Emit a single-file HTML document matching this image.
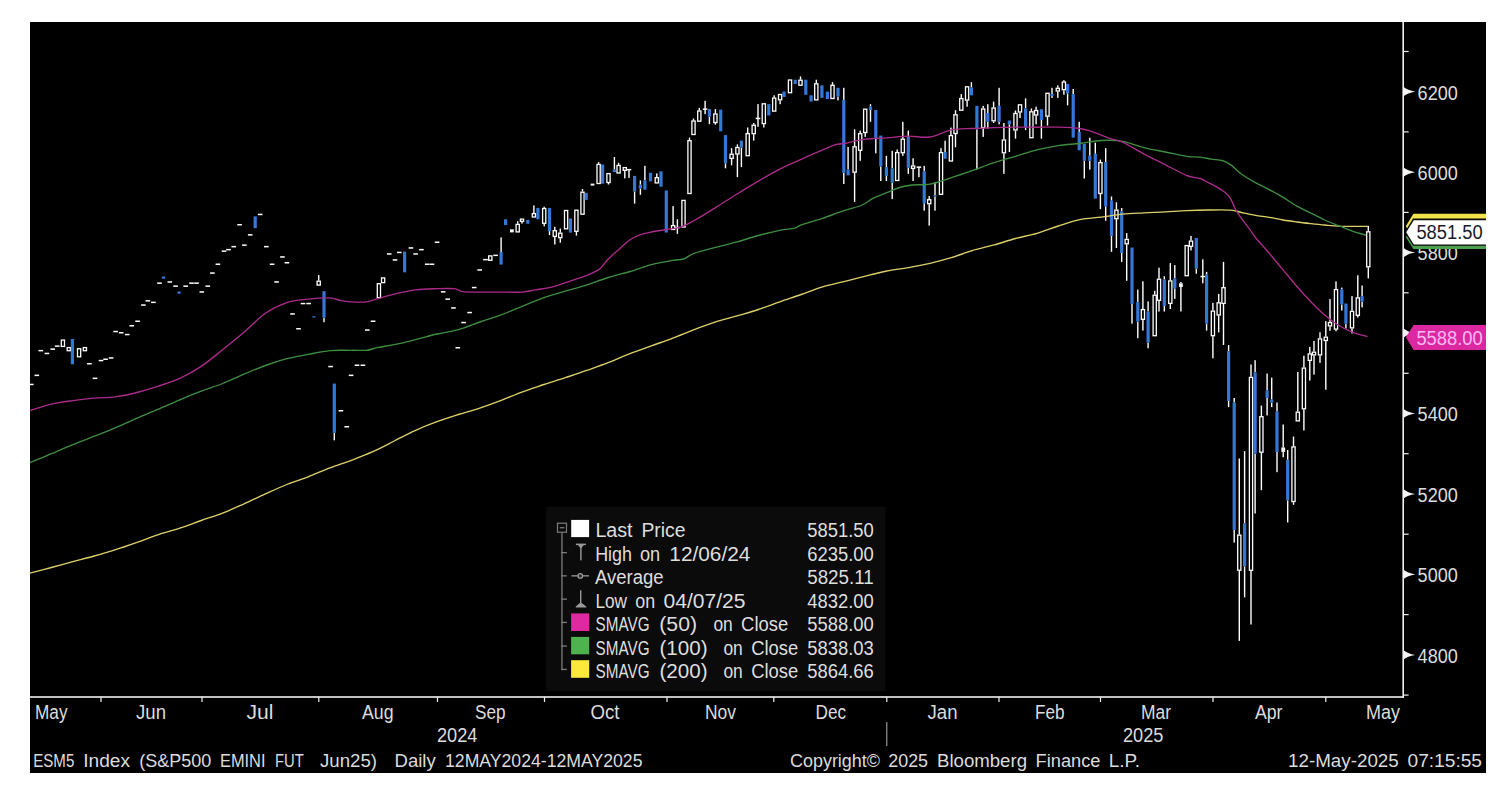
<!DOCTYPE html>
<html><head><meta charset="utf-8"><title>ESM5 Index</title>
<style>html,body{margin:0;padding:0;background:#fff;}body{width:1500px;height:794px;overflow:hidden;font-family:"Liberation Sans",sans-serif;}svg{display:block;position:absolute;left:0;top:0;}text{font-family:"Liberation Sans",sans-serif;}</style></head><body>
<svg width="1500" height="794" viewBox="0 0 1500 794">
<rect x="0" y="0" width="1500" height="794" fill="#ffffff"/>
<rect x="30" y="22" width="1456" height="751" fill="#000000"/>
<g>
<rect x="29.0" y="383.7" width="4.6" height="1.5" fill="#ffffff"/>
<rect x="34.5" y="374.6" width="4.6" height="1.5" fill="#ffffff"/>
<rect x="38.5" y="349.9" width="4.6" height="1.5" fill="#ffffff"/>
<rect x="44.6" y="352.7" width="4.6" height="1.5" fill="#ffffff"/>
<rect x="50.4" y="348.4" width="4.6" height="1.5" fill="#ffffff"/>
<rect x="54.9" y="345.4" width="4.6" height="1.5" fill="#ffffff"/>
<rect x="61.3" y="340.1" width="3.2" height="6.3" fill="#000" stroke="#ffffff" stroke-width="1.3"/>
<rect x="67.2" y="347.6" width="3.2" height="3.1" fill="#000" stroke="#ffffff" stroke-width="1.3"/>
<rect x="70.8" y="339.0" width="3.2" height="25.3" fill="#3478d7"/>
<rect x="77.5" y="348.7" width="3.2" height="8.1" fill="#000" stroke="#ffffff" stroke-width="1.3"/>
<rect x="83.3" y="347.6" width="3.2" height="3.1" fill="#000" stroke="#ffffff" stroke-width="1.3"/>
<rect x="87.1" y="363.0" width="4.6" height="1.5" fill="#ffffff"/>
<rect x="92.7" y="377.6" width="4.6" height="1.5" fill="#ffffff"/>
<rect x="98.7" y="359.8" width="4.6" height="1.5" fill="#ffffff"/>
<rect x="103.3" y="358.5" width="4.6" height="1.5" fill="#ffffff"/>
<rect x="108.8" y="357.2" width="4.6" height="1.5" fill="#ffffff"/>
<rect x="113.3" y="330.8" width="4.6" height="1.5" fill="#ffffff"/>
<rect x="118.9" y="332.0" width="4.6" height="1.5" fill="#ffffff"/>
<rect x="124.9" y="333.8" width="4.6" height="1.5" fill="#ffffff"/>
<rect x="129.5" y="325.0" width="4.6" height="1.5" fill="#ffffff"/>
<rect x="135.3" y="320.5" width="4.6" height="1.5" fill="#ffffff"/>
<rect x="141.1" y="304.3" width="4.6" height="1.5" fill="#ffffff"/>
<rect x="145.6" y="300.1" width="4.6" height="1.5" fill="#ffffff"/>
<rect x="151.1" y="301.6" width="4.6" height="1.5" fill="#ffffff"/>
<rect x="157.2" y="282.4" width="4.6" height="1.5" fill="#ffffff"/>
<rect x="161.9" y="276.5" width="3.2" height="2.2" fill="#3478d7"/>
<rect x="167.5" y="281.2" width="4.6" height="1.5" fill="#ffffff"/>
<rect x="173.3" y="285.4" width="4.6" height="1.5" fill="#ffffff"/>
<rect x="177.5" y="291.5" width="3.2" height="2.2" fill="#3478d7"/>
<rect x="183.4" y="285.4" width="4.6" height="1.5" fill="#ffffff"/>
<rect x="189.2" y="282.4" width="4.6" height="1.5" fill="#ffffff"/>
<rect x="194.2" y="282.4" width="4.6" height="1.5" fill="#ffffff"/>
<rect x="199.5" y="291.2" width="4.6" height="1.5" fill="#ffffff"/>
<rect x="205.5" y="285.4" width="4.6" height="1.5" fill="#ffffff"/>
<rect x="210.1" y="272.3" width="4.6" height="1.5" fill="#ffffff"/>
<rect x="215.6" y="263.5" width="4.6" height="1.5" fill="#ffffff"/>
<rect x="221.7" y="250.4" width="4.6" height="1.5" fill="#ffffff"/>
<rect x="226.2" y="248.9" width="4.6" height="1.5" fill="#ffffff"/>
<rect x="231.5" y="245.9" width="4.6" height="1.5" fill="#ffffff"/>
<rect x="237.3" y="224.0" width="4.6" height="1.5" fill="#ffffff"/>
<rect x="242.1" y="244.4" width="4.6" height="1.5" fill="#ffffff"/>
<rect x="247.9" y="234.1" width="4.6" height="1.5" fill="#ffffff"/>
<rect x="253.6" y="216.4" width="3.2" height="11.8" fill="#3478d7"/>
<rect x="257.9" y="213.7" width="4.6" height="1.5" fill="#ffffff"/>
<rect x="264.0" y="245.9" width="4.6" height="1.5" fill="#ffffff"/>
<rect x="269.8" y="263.5" width="4.6" height="1.5" fill="#ffffff"/>
<rect x="274.3" y="281.2" width="4.6" height="1.5" fill="#ffffff"/>
<rect x="280.1" y="256.2" width="4.6" height="1.5" fill="#ffffff"/>
<rect x="284.6" y="262.0" width="4.6" height="1.5" fill="#ffffff"/>
<rect x="290.2" y="313.2" width="4.6" height="1.5" fill="#ffffff"/>
<rect x="296.2" y="328.0" width="4.6" height="1.5" fill="#ffffff"/>
<rect x="300.7" y="302.8" width="4.6" height="1.5" fill="#ffffff"/>
<rect x="306.3" y="302.8" width="4.6" height="1.5" fill="#ffffff"/>
<rect x="312.3" y="316.3" width="3.2" height="1.2" fill="#3478d7"/>
<rect x="318.0" y="275.1" width="1.4" height="5.5" fill="#ffffff"/>
<rect x="317.1" y="281.2" width="3.2" height="3.9" fill="#000" stroke="#ffffff" stroke-width="1.3"/>
<rect x="323.3" y="317.6" width="1.4" height="4.6" fill="#ffffff"/>
<rect x="322.4" y="291.2" width="3.2" height="26.4" fill="#3478d7"/>
<rect x="328.3" y="365.8" width="4.6" height="1.5" fill="#ffffff"/>
<rect x="333.6" y="432.8" width="1.4" height="7.5" fill="#ffffff"/>
<rect x="332.7" y="383.6" width="3.2" height="49.2" fill="#3478d7"/>
<rect x="338.6" y="410.0" width="4.6" height="1.5" fill="#ffffff"/>
<rect x="344.4" y="426.0" width="4.6" height="1.5" fill="#ffffff"/>
<rect x="348.8" y="374.6" width="4.6" height="1.5" fill="#ffffff"/>
<rect x="354.7" y="364.5" width="4.6" height="1.5" fill="#ffffff"/>
<rect x="360.6" y="364.5" width="4.6" height="1.5" fill="#ffffff"/>
<rect x="365.0" y="329.3" width="4.6" height="1.5" fill="#ffffff"/>
<rect x="370.8" y="320.5" width="4.6" height="1.5" fill="#ffffff"/>
<rect x="377.3" y="283.7" width="3.2" height="14.0" fill="#000" stroke="#ffffff" stroke-width="1.3"/>
<rect x="381.5" y="277.9" width="3.2" height="4.7" fill="#000" stroke="#ffffff" stroke-width="1.3"/>
<rect x="386.9" y="253.2" width="4.6" height="1.5" fill="#ffffff"/>
<rect x="392.7" y="259.2" width="4.6" height="1.5" fill="#ffffff"/>
<rect x="397.0" y="251.7" width="4.6" height="1.5" fill="#ffffff"/>
<rect x="403.0" y="251.6" width="3.2" height="20.7" fill="#3478d7"/>
<rect x="408.6" y="247.2" width="4.6" height="1.5" fill="#ffffff"/>
<rect x="413.3" y="253.2" width="4.6" height="1.5" fill="#ffffff"/>
<rect x="419.1" y="248.9" width="4.6" height="1.5" fill="#ffffff"/>
<rect x="424.9" y="263.5" width="4.6" height="1.5" fill="#ffffff"/>
<rect x="429.7" y="263.5" width="4.6" height="1.5" fill="#ffffff"/>
<rect x="434.8" y="241.5" width="4.6" height="1.5" fill="#ffffff"/>
<rect x="440.9" y="291.1" width="4.6" height="1.5" fill="#ffffff"/>
<rect x="445.4" y="298.4" width="4.6" height="1.5" fill="#ffffff"/>
<rect x="451.2" y="307.2" width="4.6" height="1.5" fill="#ffffff"/>
<rect x="455.5" y="347.0" width="4.6" height="1.5" fill="#ffffff"/>
<rect x="461.3" y="321.8" width="4.6" height="1.5" fill="#ffffff"/>
<rect x="467.3" y="311.8" width="4.6" height="1.5" fill="#ffffff"/>
<rect x="471.9" y="286.8" width="4.6" height="1.5" fill="#ffffff"/>
<rect x="477.4" y="269.2" width="4.6" height="1.5" fill="#ffffff"/>
<rect x="483.2" y="258.9" width="4.6" height="1.5" fill="#ffffff"/>
<rect x="488.7" y="255.9" width="3.2" height="4.4" fill="#000" stroke="#ffffff" stroke-width="1.3"/>
<rect x="493.3" y="254.6" width="4.6" height="1.5" fill="#ffffff"/>
<rect x="500.4" y="237.4" width="1.4" height="14.6" fill="#ffffff"/>
<rect x="499.5" y="252.0" width="3.2" height="12.6" fill="#3478d7"/>
<rect x="504.0" y="219.3" width="3.2" height="5.8" fill="#3478d7"/>
<rect x="510.0" y="229.3" width="3.8" height="3.1" fill="#f4f4f4"/>
<rect x="517.0" y="221.3" width="1.4" height="2.5" fill="#ffffff"/>
<rect x="516.1" y="224.4" width="3.2" height="7.5" fill="#000" stroke="#ffffff" stroke-width="1.3"/>
<rect x="521.3" y="221.8" width="1.4" height="1.8" fill="#ffffff"/>
<rect x="520.4" y="219.1" width="3.2" height="2.2" fill="#000" stroke="#ffffff" stroke-width="1.3"/>
<rect x="526.2" y="220.0" width="3.2" height="3.8" fill="#3478d7"/>
<rect x="533.2" y="205.4" width="1.4" height="7.6" fill="#ffffff"/>
<rect x="532.3" y="213.6" width="3.2" height="3.4" fill="#000" stroke="#ffffff" stroke-width="1.3"/>
<rect x="536.3" y="207.9" width="3.2" height="11.4" fill="#3478d7"/>
<rect x="543.5" y="206.7" width="1.4" height="1.2" fill="#ffffff"/>
<rect x="543.5" y="223.8" width="1.4" height="2.5" fill="#ffffff"/>
<rect x="542.6" y="208.5" width="3.2" height="14.8" fill="#000" stroke="#ffffff" stroke-width="1.3"/>
<rect x="548.8" y="231.1" width="1.4" height="4.0" fill="#ffffff"/>
<rect x="547.9" y="207.9" width="3.2" height="23.2" fill="#3478d7"/>
<rect x="554.1" y="226.8" width="1.4" height="3.3" fill="#ffffff"/>
<rect x="554.1" y="236.9" width="1.4" height="7.6" fill="#ffffff"/>
<rect x="553.2" y="230.7" width="3.2" height="5.7" fill="#000" stroke="#ffffff" stroke-width="1.3"/>
<rect x="559.6" y="228.6" width="1.4" height="4.0" fill="#ffffff"/>
<rect x="559.6" y="238.2" width="1.4" height="4.5" fill="#ffffff"/>
<rect x="558.7" y="233.2" width="3.2" height="4.5" fill="#000" stroke="#ffffff" stroke-width="1.3"/>
<rect x="564.5" y="210.5" width="3.2" height="18.3" fill="#000" stroke="#ffffff" stroke-width="1.3"/>
<rect x="568.8" y="218.5" width="3.2" height="14.1" fill="#3478d7"/>
<rect x="575.7" y="231.9" width="1.4" height="3.7" fill="#ffffff"/>
<rect x="574.8" y="210.2" width="3.2" height="21.1" fill="#000" stroke="#ffffff" stroke-width="1.3"/>
<rect x="581.8" y="189.0" width="1.4" height="2.6" fill="#ffffff"/>
<rect x="580.9" y="192.2" width="3.2" height="22.0" fill="#000" stroke="#ffffff" stroke-width="1.3"/>
<rect x="584.6" y="192.8" width="3.2" height="7.1" fill="#3478d7"/>
<rect x="590.6" y="183.6" width="3.8" height="2.0" fill="#f4f4f4"/>
<rect x="597.9" y="162.1" width="1.4" height="1.7" fill="#ffffff"/>
<rect x="597.0" y="164.4" width="3.2" height="19.1" fill="#000" stroke="#ffffff" stroke-width="1.3"/>
<rect x="601.0" y="164.5" width="3.2" height="19.2" fill="#3478d7"/>
<rect x="607.8" y="183.0" width="1.4" height="1.5" fill="#ffffff"/>
<rect x="606.9" y="173.6" width="3.2" height="8.9" fill="#000" stroke="#ffffff" stroke-width="1.3"/>
<rect x="613.7" y="157.0" width="1.4" height="12.5" fill="#ffffff"/>
<rect x="612.8" y="169.5" width="3.2" height="2.5" fill="#3478d7"/>
<rect x="617.9" y="162.8" width="1.4" height="2.0" fill="#ffffff"/>
<rect x="617.0" y="165.4" width="3.2" height="7.6" fill="#000" stroke="#ffffff" stroke-width="1.3"/>
<rect x="624.1" y="170.8" width="1.4" height="7.6" fill="#ffffff"/>
<rect x="623.2" y="167.6" width="3.2" height="2.7" fill="#000" stroke="#ffffff" stroke-width="1.3"/>
<rect x="628.3" y="169.6" width="1.4" height="8.3" fill="#ffffff"/>
<rect x="626.7" y="168.9" width="4.6" height="1.5" fill="#ffffff"/>
<rect x="633.9" y="191.5" width="1.4" height="12.1" fill="#ffffff"/>
<rect x="633.0" y="175.9" width="3.2" height="15.6" fill="#3478d7"/>
<rect x="639.7" y="180.4" width="1.4" height="4.3" fill="#ffffff"/>
<rect x="639.7" y="188.5" width="1.4" height="6.3" fill="#ffffff"/>
<rect x="638.8" y="184.7" width="3.2" height="3.8" fill="#3478d7"/>
<rect x="644.2" y="165.8" width="1.4" height="14.6" fill="#ffffff"/>
<rect x="643.3" y="180.4" width="3.2" height="9.3" fill="#3478d7"/>
<rect x="648.9" y="172.8" width="3.2" height="8.6" fill="#3478d7"/>
<rect x="656.1" y="173.4" width="1.4" height="3.7" fill="#ffffff"/>
<rect x="655.2" y="177.7" width="3.2" height="5.2" fill="#000" stroke="#ffffff" stroke-width="1.3"/>
<rect x="659.4" y="171.3" width="3.2" height="15.4" fill="#3478d7"/>
<rect x="664.7" y="190.5" width="3.2" height="42.0" fill="#3478d7"/>
<rect x="672.4" y="206.1" width="1.4" height="18.9" fill="#ffffff"/>
<rect x="671.5" y="225.6" width="3.2" height="3.9" fill="#000" stroke="#ffffff" stroke-width="1.3"/>
<rect x="676.7" y="219.2" width="1.4" height="8.3" fill="#ffffff"/>
<rect x="676.7" y="227.5" width="1.4" height="6.3" fill="#ffffff"/>
<rect x="675.1" y="226.8" width="4.6" height="1.5" fill="#ffffff"/>
<rect x="681.9" y="200.4" width="3.2" height="26.6" fill="#000" stroke="#ffffff" stroke-width="1.3"/>
<rect x="688.8" y="137.6" width="1.4" height="2.5" fill="#ffffff"/>
<rect x="687.9" y="140.7" width="3.2" height="52.8" fill="#000" stroke="#ffffff" stroke-width="1.3"/>
<rect x="692.8" y="118.5" width="1.4" height="2.0" fill="#ffffff"/>
<rect x="691.9" y="121.0" width="3.2" height="13.5" fill="#000" stroke="#ffffff" stroke-width="1.3"/>
<rect x="698.6" y="107.9" width="1.4" height="2.5" fill="#ffffff"/>
<rect x="697.7" y="111.0" width="3.2" height="10.2" fill="#000" stroke="#ffffff" stroke-width="1.3"/>
<rect x="704.4" y="100.8" width="1.4" height="8.3" fill="#ffffff"/>
<rect x="704.4" y="109.1" width="1.4" height="5.1" fill="#ffffff"/>
<rect x="702.8" y="108.4" width="4.6" height="1.5" fill="#ffffff"/>
<rect x="708.7" y="116.7" width="1.4" height="7.5" fill="#ffffff"/>
<rect x="707.8" y="109.1" width="3.2" height="7.6" fill="#3478d7"/>
<rect x="714.7" y="109.1" width="1.4" height="4.3" fill="#ffffff"/>
<rect x="714.7" y="123.0" width="1.4" height="1.7" fill="#ffffff"/>
<rect x="713.8" y="114.0" width="3.2" height="8.5" fill="#000" stroke="#ffffff" stroke-width="1.3"/>
<rect x="719.1" y="109.6" width="3.2" height="21.7" fill="#3478d7"/>
<rect x="724.8" y="163.3" width="1.4" height="5.0" fill="#ffffff"/>
<rect x="723.9" y="135.1" width="3.2" height="28.2" fill="#3478d7"/>
<rect x="730.9" y="148.2" width="1.4" height="5.5" fill="#ffffff"/>
<rect x="730.9" y="159.0" width="1.4" height="6.3" fill="#ffffff"/>
<rect x="730.0" y="154.2" width="3.2" height="4.2" fill="#000" stroke="#ffffff" stroke-width="1.3"/>
<rect x="736.7" y="144.4" width="1.4" height="2.5" fill="#ffffff"/>
<rect x="736.7" y="154.5" width="1.4" height="22.6" fill="#ffffff"/>
<rect x="735.8" y="147.5" width="3.2" height="6.5" fill="#000" stroke="#ffffff" stroke-width="1.3"/>
<rect x="740.7" y="147.7" width="1.4" height="19.4" fill="#ffffff"/>
<rect x="739.8" y="140.6" width="3.2" height="7.1" fill="#3478d7"/>
<rect x="747.0" y="127.5" width="1.4" height="5.5" fill="#ffffff"/>
<rect x="746.1" y="133.6" width="3.2" height="22.1" fill="#000" stroke="#ffffff" stroke-width="1.3"/>
<rect x="753.0" y="123.0" width="1.4" height="1.7" fill="#ffffff"/>
<rect x="753.0" y="134.3" width="1.4" height="6.3" fill="#ffffff"/>
<rect x="752.1" y="125.2" width="3.2" height="8.5" fill="#000" stroke="#ffffff" stroke-width="1.3"/>
<rect x="757.3" y="104.1" width="1.4" height="14.3" fill="#ffffff"/>
<rect x="757.3" y="118.4" width="1.4" height="8.4" fill="#ffffff"/>
<rect x="755.7" y="117.7" width="4.6" height="1.5" fill="#ffffff"/>
<rect x="763.1" y="124.2" width="1.4" height="3.3" fill="#ffffff"/>
<rect x="762.2" y="103.8" width="3.2" height="19.8" fill="#000" stroke="#ffffff" stroke-width="1.3"/>
<rect x="767.2" y="104.1" width="3.2" height="11.3" fill="#3478d7"/>
<rect x="773.5" y="95.3" width="1.4" height="2.3" fill="#ffffff"/>
<rect x="772.6" y="98.1" width="3.2" height="13.0" fill="#000" stroke="#ffffff" stroke-width="1.3"/>
<rect x="779.4" y="100.4" width="1.4" height="3.8" fill="#ffffff"/>
<rect x="778.5" y="94.5" width="3.2" height="5.3" fill="#000" stroke="#ffffff" stroke-width="1.3"/>
<rect x="782.4" y="91.5" width="3.2" height="5.5" fill="#3478d7"/>
<rect x="788.4" y="80.0" width="3.2" height="12.7" fill="#000" stroke="#ffffff" stroke-width="1.3"/>
<rect x="793.6" y="79.7" width="3.2" height="4.3" fill="#3478d7"/>
<rect x="799.8" y="76.4" width="1.4" height="3.3" fill="#ffffff"/>
<rect x="798.9" y="80.2" width="3.2" height="5.0" fill="#000" stroke="#ffffff" stroke-width="1.3"/>
<rect x="804.2" y="79.7" width="3.2" height="15.1" fill="#3478d7"/>
<rect x="809.5" y="95.3" width="3.2" height="6.3" fill="#3478d7"/>
<rect x="815.6" y="79.7" width="1.4" height="3.5" fill="#ffffff"/>
<rect x="814.7" y="83.8" width="3.2" height="16.1" fill="#000" stroke="#ffffff" stroke-width="1.3"/>
<rect x="820.3" y="85.3" width="3.2" height="12.6" fill="#3478d7"/>
<rect x="825.8" y="91.6" width="3.2" height="7.5" fill="#3478d7"/>
<rect x="831.8" y="82.2" width="1.4" height="2.6" fill="#ffffff"/>
<rect x="830.9" y="85.3" width="3.2" height="13.2" fill="#000" stroke="#ffffff" stroke-width="1.3"/>
<rect x="837.3" y="96.6" width="1.4" height="3.8" fill="#ffffff"/>
<rect x="836.4" y="87.8" width="3.2" height="8.8" fill="#3478d7"/>
<rect x="843.1" y="87.8" width="1.4" height="12.1" fill="#ffffff"/>
<rect x="843.1" y="172.9" width="1.4" height="11.1" fill="#ffffff"/>
<rect x="842.2" y="99.9" width="3.2" height="73.0" fill="#3478d7"/>
<rect x="847.4" y="147.0" width="1.4" height="22.6" fill="#ffffff"/>
<rect x="846.5" y="169.6" width="3.2" height="5.8" fill="#3478d7"/>
<rect x="853.9" y="129.3" width="1.4" height="16.9" fill="#ffffff"/>
<rect x="853.9" y="172.7" width="1.4" height="29.2" fill="#ffffff"/>
<rect x="853.0" y="146.8" width="3.2" height="25.4" fill="#000" stroke="#ffffff" stroke-width="1.3"/>
<rect x="859.5" y="130.6" width="1.4" height="2.5" fill="#ffffff"/>
<rect x="859.5" y="150.8" width="1.4" height="10.0" fill="#ffffff"/>
<rect x="858.6" y="133.7" width="3.2" height="16.6" fill="#000" stroke="#ffffff" stroke-width="1.3"/>
<rect x="864.5" y="133.1" width="1.4" height="3.8" fill="#ffffff"/>
<rect x="863.6" y="109.2" width="3.2" height="23.3" fill="#000" stroke="#ffffff" stroke-width="1.3"/>
<rect x="869.8" y="104.2" width="1.4" height="2.3" fill="#ffffff"/>
<rect x="869.8" y="110.0" width="1.4" height="11.8" fill="#ffffff"/>
<rect x="868.9" y="106.5" width="3.2" height="3.5" fill="#3478d7"/>
<rect x="875.1" y="138.2" width="1.4" height="15.1" fill="#ffffff"/>
<rect x="874.2" y="110.0" width="3.2" height="28.2" fill="#3478d7"/>
<rect x="880.1" y="166.4" width="1.4" height="14.6" fill="#ffffff"/>
<rect x="879.2" y="135.6" width="3.2" height="30.8" fill="#3478d7"/>
<rect x="885.7" y="155.8" width="1.4" height="11.3" fill="#ffffff"/>
<rect x="885.7" y="176.0" width="1.4" height="5.0" fill="#ffffff"/>
<rect x="884.8" y="167.1" width="3.2" height="8.9" fill="#3478d7"/>
<rect x="891.5" y="150.8" width="1.4" height="17.6" fill="#ffffff"/>
<rect x="891.5" y="182.8" width="1.4" height="16.3" fill="#ffffff"/>
<rect x="890.6" y="168.4" width="3.2" height="14.4" fill="#3478d7"/>
<rect x="896.5" y="149.5" width="1.4" height="2.5" fill="#ffffff"/>
<rect x="895.6" y="152.6" width="3.2" height="27.9" fill="#000" stroke="#ffffff" stroke-width="1.3"/>
<rect x="902.1" y="121.8" width="1.4" height="16.9" fill="#ffffff"/>
<rect x="902.1" y="153.3" width="1.4" height="2.5" fill="#ffffff"/>
<rect x="901.2" y="139.2" width="3.2" height="13.5" fill="#000" stroke="#ffffff" stroke-width="1.3"/>
<rect x="907.6" y="130.6" width="1.4" height="6.3" fill="#ffffff"/>
<rect x="907.6" y="167.9" width="1.4" height="6.0" fill="#ffffff"/>
<rect x="906.7" y="136.9" width="3.2" height="31.0" fill="#3478d7"/>
<rect x="912.4" y="158.3" width="1.4" height="7.1" fill="#ffffff"/>
<rect x="912.4" y="168.9" width="1.4" height="12.1" fill="#ffffff"/>
<rect x="911.5" y="166.0" width="3.2" height="2.4" fill="#000" stroke="#ffffff" stroke-width="1.3"/>
<rect x="918.2" y="167.1" width="1.4" height="10.1" fill="#ffffff"/>
<rect x="916.6" y="166.4" width="4.6" height="1.5" fill="#ffffff"/>
<rect x="923.5" y="165.9" width="1.4" height="5.5" fill="#ffffff"/>
<rect x="923.5" y="203.2" width="1.4" height="7.5" fill="#ffffff"/>
<rect x="922.6" y="171.4" width="3.2" height="31.8" fill="#3478d7"/>
<rect x="928.5" y="196.1" width="1.4" height="3.0" fill="#ffffff"/>
<rect x="928.5" y="204.2" width="1.4" height="21.4" fill="#ffffff"/>
<rect x="927.6" y="199.7" width="3.2" height="4.0" fill="#000" stroke="#ffffff" stroke-width="1.3"/>
<rect x="934.3" y="182.2" width="1.4" height="12.8" fill="#ffffff"/>
<rect x="934.3" y="196.4" width="1.4" height="14.3" fill="#ffffff"/>
<rect x="933.4" y="195.0" width="3.2" height="1.4" fill="#3478d7"/>
<rect x="940.3" y="148.2" width="1.4" height="3.8" fill="#ffffff"/>
<rect x="939.4" y="152.6" width="3.2" height="41.7" fill="#000" stroke="#ffffff" stroke-width="1.3"/>
<rect x="944.4" y="140.7" width="1.4" height="11.3" fill="#ffffff"/>
<rect x="943.5" y="152.0" width="3.2" height="6.8" fill="#3478d7"/>
<rect x="950.2" y="127.6" width="1.4" height="7.4" fill="#ffffff"/>
<rect x="949.3" y="135.6" width="3.2" height="25.4" fill="#000" stroke="#ffffff" stroke-width="1.3"/>
<rect x="954.8" y="110.2" width="1.4" height="4.0" fill="#ffffff"/>
<rect x="954.8" y="134.0" width="1.4" height="13.3" fill="#ffffff"/>
<rect x="953.9" y="114.8" width="3.2" height="18.7" fill="#000" stroke="#ffffff" stroke-width="1.3"/>
<rect x="960.6" y="94.1" width="1.4" height="4.0" fill="#ffffff"/>
<rect x="959.7" y="98.6" width="3.2" height="11.6" fill="#000" stroke="#ffffff" stroke-width="1.3"/>
<rect x="966.4" y="100.6" width="1.4" height="6.1" fill="#ffffff"/>
<rect x="965.5" y="86.8" width="3.2" height="13.3" fill="#000" stroke="#ffffff" stroke-width="1.3"/>
<rect x="970.7" y="82.2" width="1.4" height="5.1" fill="#ffffff"/>
<rect x="969.8" y="87.3" width="3.2" height="8.0" fill="#3478d7"/>
<rect x="976.2" y="129.3" width="1.4" height="40.3" fill="#ffffff"/>
<rect x="975.3" y="105.9" width="3.2" height="23.4" fill="#3478d7"/>
<rect x="982.5" y="105.9" width="1.4" height="2.5" fill="#ffffff"/>
<rect x="982.5" y="128.1" width="1.4" height="8.8" fill="#ffffff"/>
<rect x="981.6" y="109.0" width="3.2" height="18.6" fill="#000" stroke="#ffffff" stroke-width="1.3"/>
<rect x="987.1" y="104.2" width="1.4" height="8.8" fill="#ffffff"/>
<rect x="987.1" y="121.8" width="1.4" height="6.8" fill="#ffffff"/>
<rect x="986.2" y="113.0" width="3.2" height="8.8" fill="#3478d7"/>
<rect x="992.9" y="101.6" width="1.4" height="5.8" fill="#ffffff"/>
<rect x="992.9" y="121.3" width="1.4" height="1.7" fill="#ffffff"/>
<rect x="992.0" y="108.0" width="3.2" height="12.8" fill="#000" stroke="#ffffff" stroke-width="1.3"/>
<rect x="998.4" y="87.8" width="1.4" height="18.1" fill="#ffffff"/>
<rect x="998.4" y="121.8" width="1.4" height="2.5" fill="#ffffff"/>
<rect x="997.5" y="105.9" width="3.2" height="15.9" fill="#3478d7"/>
<rect x="1003.2" y="123.0" width="1.4" height="16.4" fill="#ffffff"/>
<rect x="1003.2" y="153.3" width="1.4" height="20.6" fill="#ffffff"/>
<rect x="1002.3" y="140.0" width="3.2" height="12.8" fill="#000" stroke="#ffffff" stroke-width="1.3"/>
<rect x="1008.7" y="124.3" width="1.4" height="27.7" fill="#ffffff"/>
<rect x="1007.8" y="120.5" width="3.2" height="3.8" fill="#3478d7"/>
<rect x="1014.8" y="110.5" width="1.4" height="2.5" fill="#ffffff"/>
<rect x="1014.8" y="130.6" width="1.4" height="8.1" fill="#ffffff"/>
<rect x="1013.9" y="113.5" width="3.2" height="16.5" fill="#000" stroke="#ffffff" stroke-width="1.3"/>
<rect x="1019.3" y="112.5" width="1.4" height="5.5" fill="#ffffff"/>
<rect x="1018.4" y="104.8" width="3.2" height="7.2" fill="#000" stroke="#ffffff" stroke-width="1.3"/>
<rect x="1024.9" y="98.4" width="1.4" height="10.0" fill="#ffffff"/>
<rect x="1024.9" y="127.6" width="1.4" height="2.5" fill="#ffffff"/>
<rect x="1024.0" y="108.4" width="3.2" height="19.2" fill="#3478d7"/>
<rect x="1030.7" y="108.4" width="1.4" height="2.8" fill="#ffffff"/>
<rect x="1029.8" y="111.8" width="3.2" height="25.9" fill="#000" stroke="#ffffff" stroke-width="1.3"/>
<rect x="1035.4" y="106.7" width="1.4" height="3.2" fill="#ffffff"/>
<rect x="1035.4" y="115.5" width="1.4" height="8.8" fill="#ffffff"/>
<rect x="1034.5" y="110.5" width="3.2" height="4.5" fill="#000" stroke="#ffffff" stroke-width="1.3"/>
<rect x="1040.7" y="120.0" width="1.4" height="18.7" fill="#ffffff"/>
<rect x="1039.8" y="109.2" width="3.2" height="10.8" fill="#3478d7"/>
<rect x="1046.8" y="116.8" width="1.4" height="8.8" fill="#ffffff"/>
<rect x="1045.9" y="93.3" width="3.2" height="22.9" fill="#000" stroke="#ffffff" stroke-width="1.3"/>
<rect x="1051.3" y="87.8" width="1.4" height="6.2" fill="#ffffff"/>
<rect x="1051.3" y="96.0" width="1.4" height="1.9" fill="#ffffff"/>
<rect x="1050.4" y="94.0" width="3.2" height="2.0" fill="#3478d7"/>
<rect x="1057.1" y="85.3" width="1.4" height="2.5" fill="#ffffff"/>
<rect x="1057.1" y="91.6" width="1.4" height="6.3" fill="#ffffff"/>
<rect x="1056.2" y="88.3" width="3.2" height="2.7" fill="#000" stroke="#ffffff" stroke-width="1.3"/>
<rect x="1063.2" y="80.2" width="1.4" height="1.3" fill="#ffffff"/>
<rect x="1063.2" y="90.3" width="1.4" height="4.5" fill="#ffffff"/>
<rect x="1062.3" y="82.0" width="3.2" height="7.7" fill="#000" stroke="#ffffff" stroke-width="1.3"/>
<rect x="1066.9" y="93.3" width="1.4" height="12.1" fill="#ffffff"/>
<rect x="1066.0" y="84.0" width="3.2" height="9.3" fill="#3478d7"/>
<rect x="1072.5" y="89.0" width="1.4" height="5.1" fill="#ffffff"/>
<rect x="1071.6" y="94.1" width="3.2" height="43.6" fill="#3478d7"/>
<rect x="1078.5" y="121.8" width="1.4" height="10.1" fill="#ffffff"/>
<rect x="1077.6" y="131.9" width="3.2" height="18.4" fill="#3478d7"/>
<rect x="1083.6" y="160.8" width="1.4" height="17.7" fill="#ffffff"/>
<rect x="1082.7" y="143.7" width="3.2" height="17.1" fill="#3478d7"/>
<rect x="1089.1" y="137.7" width="1.4" height="18.1" fill="#ffffff"/>
<rect x="1089.1" y="160.8" width="1.4" height="8.8" fill="#ffffff"/>
<rect x="1088.2" y="155.8" width="3.2" height="5.0" fill="#3478d7"/>
<rect x="1094.6" y="142.7" width="1.4" height="11.1" fill="#ffffff"/>
<rect x="1093.7" y="153.8" width="3.2" height="44.8" fill="#3478d7"/>
<rect x="1099.7" y="159.6" width="1.4" height="2.5" fill="#ffffff"/>
<rect x="1099.7" y="194.0" width="1.4" height="15.1" fill="#ffffff"/>
<rect x="1098.8" y="162.7" width="3.2" height="30.8" fill="#000" stroke="#ffffff" stroke-width="1.3"/>
<rect x="1105.0" y="148.2" width="1.4" height="13.9" fill="#ffffff"/>
<rect x="1105.0" y="206.3" width="1.4" height="14.5" fill="#ffffff"/>
<rect x="1104.1" y="162.1" width="3.2" height="44.2" fill="#3478d7"/>
<rect x="1110.8" y="196.5" width="1.4" height="4.1" fill="#ffffff"/>
<rect x="1110.8" y="235.9" width="1.4" height="15.9" fill="#ffffff"/>
<rect x="1109.9" y="200.6" width="3.2" height="35.3" fill="#3478d7"/>
<rect x="1115.7" y="202.3" width="1.4" height="7.2" fill="#ffffff"/>
<rect x="1115.7" y="219.2" width="1.4" height="28.8" fill="#ffffff"/>
<rect x="1114.8" y="210.1" width="3.2" height="8.6" fill="#000" stroke="#ffffff" stroke-width="1.3"/>
<rect x="1121.0" y="208.0" width="1.4" height="3.3" fill="#ffffff"/>
<rect x="1121.0" y="253.0" width="1.4" height="8.9" fill="#ffffff"/>
<rect x="1120.1" y="211.3" width="3.2" height="41.7" fill="#3478d7"/>
<rect x="1126.0" y="233.1" width="1.4" height="5.7" fill="#ffffff"/>
<rect x="1126.0" y="244.3" width="1.4" height="36.5" fill="#ffffff"/>
<rect x="1125.1" y="239.4" width="3.2" height="4.4" fill="#000" stroke="#ffffff" stroke-width="1.3"/>
<rect x="1131.3" y="303.9" width="1.4" height="19.7" fill="#ffffff"/>
<rect x="1130.4" y="247.5" width="3.2" height="56.4" fill="#3478d7"/>
<rect x="1137.1" y="289.6" width="1.4" height="12.6" fill="#ffffff"/>
<rect x="1137.1" y="321.6" width="1.4" height="16.6" fill="#ffffff"/>
<rect x="1136.2" y="302.2" width="3.2" height="19.4" fill="#3478d7"/>
<rect x="1142.2" y="281.3" width="1.4" height="27.7" fill="#ffffff"/>
<rect x="1142.2" y="319.8" width="1.4" height="10.8" fill="#ffffff"/>
<rect x="1141.3" y="309.6" width="3.2" height="9.7" fill="#000" stroke="#ffffff" stroke-width="1.3"/>
<rect x="1147.4" y="301.4" width="1.4" height="10.1" fill="#ffffff"/>
<rect x="1147.4" y="342.5" width="1.4" height="5.8" fill="#ffffff"/>
<rect x="1146.5" y="311.5" width="3.2" height="31.0" fill="#3478d7"/>
<rect x="1154.0" y="290.8" width="1.4" height="3.8" fill="#ffffff"/>
<rect x="1153.1" y="295.2" width="3.2" height="40.5" fill="#000" stroke="#ffffff" stroke-width="1.3"/>
<rect x="1158.3" y="267.7" width="1.4" height="11.0" fill="#ffffff"/>
<rect x="1158.3" y="300.9" width="1.4" height="10.6" fill="#ffffff"/>
<rect x="1157.4" y="279.2" width="3.2" height="21.1" fill="#000" stroke="#ffffff" stroke-width="1.3"/>
<rect x="1163.6" y="276.2" width="1.4" height="3.3" fill="#ffffff"/>
<rect x="1163.6" y="305.9" width="1.4" height="5.6" fill="#ffffff"/>
<rect x="1162.7" y="279.5" width="3.2" height="26.4" fill="#3478d7"/>
<rect x="1169.6" y="263.1" width="1.4" height="17.2" fill="#ffffff"/>
<rect x="1169.6" y="303.9" width="1.4" height="5.1" fill="#ffffff"/>
<rect x="1168.7" y="280.9" width="3.2" height="22.5" fill="#000" stroke="#ffffff" stroke-width="1.3"/>
<rect x="1174.1" y="265.1" width="1.4" height="13.1" fill="#ffffff"/>
<rect x="1174.1" y="288.3" width="1.4" height="10.6" fill="#ffffff"/>
<rect x="1173.2" y="278.2" width="3.2" height="10.1" fill="#3478d7"/>
<rect x="1180.2" y="282.0" width="1.4" height="1.3" fill="#ffffff"/>
<rect x="1180.2" y="287.0" width="1.4" height="24.5" fill="#ffffff"/>
<rect x="1179.0" y="283.3" width="3.8" height="3.7" fill="#f4f4f4"/>
<rect x="1185.1" y="245.6" width="3.2" height="30.1" fill="#000" stroke="#ffffff" stroke-width="1.3"/>
<rect x="1190.3" y="235.9" width="1.4" height="4.6" fill="#ffffff"/>
<rect x="1190.3" y="246.8" width="1.4" height="3.7" fill="#ffffff"/>
<rect x="1189.4" y="241.1" width="3.2" height="5.2" fill="#000" stroke="#ffffff" stroke-width="1.3"/>
<rect x="1195.6" y="268.7" width="1.4" height="5.0" fill="#ffffff"/>
<rect x="1194.7" y="237.9" width="3.2" height="30.8" fill="#3478d7"/>
<rect x="1202.1" y="259.3" width="1.4" height="17.2" fill="#ffffff"/>
<rect x="1202.1" y="276.5" width="1.4" height="6.8" fill="#ffffff"/>
<rect x="1200.5" y="275.8" width="4.6" height="1.5" fill="#ffffff"/>
<rect x="1205.9" y="271.9" width="1.4" height="2.6" fill="#ffffff"/>
<rect x="1205.9" y="323.6" width="1.4" height="7.0" fill="#ffffff"/>
<rect x="1205.0" y="274.5" width="3.2" height="49.1" fill="#3478d7"/>
<rect x="1212.2" y="302.9" width="1.4" height="7.6" fill="#ffffff"/>
<rect x="1212.2" y="336.2" width="1.4" height="22.1" fill="#ffffff"/>
<rect x="1211.3" y="311.1" width="3.2" height="24.6" fill="#000" stroke="#ffffff" stroke-width="1.3"/>
<rect x="1218.0" y="293.9" width="1.4" height="8.3" fill="#ffffff"/>
<rect x="1218.0" y="315.5" width="1.4" height="16.9" fill="#ffffff"/>
<rect x="1217.1" y="302.8" width="3.2" height="12.2" fill="#000" stroke="#ffffff" stroke-width="1.3"/>
<rect x="1222.8" y="261.9" width="1.4" height="25.2" fill="#ffffff"/>
<rect x="1222.8" y="303.9" width="1.4" height="41.1" fill="#ffffff"/>
<rect x="1221.9" y="287.7" width="3.2" height="15.7" fill="#000" stroke="#ffffff" stroke-width="1.3"/>
<rect x="1227.9" y="345.1" width="1.4" height="6.1" fill="#ffffff"/>
<rect x="1227.9" y="401.0" width="1.4" height="6.1" fill="#ffffff"/>
<rect x="1227.0" y="351.2" width="3.2" height="49.8" fill="#3478d7"/>
<rect x="1233.5" y="398.0" width="1.4" height="4.5" fill="#ffffff"/>
<rect x="1233.5" y="529.9" width="1.4" height="12.7" fill="#ffffff"/>
<rect x="1232.6" y="402.5" width="3.2" height="127.4" fill="#3478d7"/>
<rect x="1238.6" y="458.5" width="1.4" height="76.1" fill="#ffffff"/>
<rect x="1238.6" y="570.8" width="1.4" height="70.1" fill="#ffffff"/>
<rect x="1237.7" y="535.1" width="3.2" height="35.1" fill="#000" stroke="#ffffff" stroke-width="1.3"/>
<rect x="1243.9" y="451.1" width="1.4" height="72.2" fill="#ffffff"/>
<rect x="1243.9" y="566.4" width="1.4" height="30.9" fill="#ffffff"/>
<rect x="1243.0" y="523.3" width="3.2" height="43.1" fill="#3478d7"/>
<rect x="1250.3" y="364.5" width="1.4" height="12.3" fill="#ffffff"/>
<rect x="1250.3" y="570.8" width="1.4" height="53.7" fill="#ffffff"/>
<rect x="1249.4" y="377.4" width="3.2" height="192.9" fill="#000" stroke="#ffffff" stroke-width="1.3"/>
<rect x="1254.4" y="360.2" width="1.4" height="12.1" fill="#ffffff"/>
<rect x="1254.4" y="453.7" width="1.4" height="59.8" fill="#ffffff"/>
<rect x="1253.5" y="372.3" width="3.2" height="81.4" fill="#3478d7"/>
<rect x="1260.7" y="405.6" width="1.4" height="10.5" fill="#ffffff"/>
<rect x="1260.7" y="452.7" width="1.4" height="37.5" fill="#ffffff"/>
<rect x="1259.8" y="416.7" width="3.2" height="35.5" fill="#000" stroke="#ffffff" stroke-width="1.3"/>
<rect x="1266.4" y="373.5" width="1.4" height="17.0" fill="#ffffff"/>
<rect x="1266.4" y="398.0" width="1.4" height="17.4" fill="#ffffff"/>
<rect x="1265.5" y="390.5" width="3.2" height="7.5" fill="#3478d7"/>
<rect x="1271.0" y="377.6" width="1.4" height="21.9" fill="#ffffff"/>
<rect x="1271.0" y="402.5" width="1.4" height="4.6" fill="#ffffff"/>
<rect x="1270.1" y="399.5" width="3.2" height="3.0" fill="#3478d7"/>
<rect x="1276.3" y="402.5" width="1.4" height="9.1" fill="#ffffff"/>
<rect x="1276.3" y="451.9" width="1.4" height="20.3" fill="#ffffff"/>
<rect x="1275.4" y="411.6" width="3.2" height="40.3" fill="#3478d7"/>
<rect x="1282.5" y="424.5" width="1.4" height="22.9" fill="#ffffff"/>
<rect x="1282.5" y="451.9" width="1.4" height="5.3" fill="#ffffff"/>
<rect x="1281.3" y="447.4" width="3.8" height="4.5" fill="#f4f4f4"/>
<rect x="1287.0" y="450.0" width="1.4" height="9.8" fill="#ffffff"/>
<rect x="1287.0" y="500.3" width="1.4" height="22.2" fill="#ffffff"/>
<rect x="1286.1" y="459.8" width="3.2" height="40.5" fill="#3478d7"/>
<rect x="1292.8" y="436.5" width="1.4" height="9.9" fill="#ffffff"/>
<rect x="1292.8" y="502.1" width="1.4" height="2.7" fill="#ffffff"/>
<rect x="1291.9" y="446.9" width="3.2" height="54.6" fill="#000" stroke="#ffffff" stroke-width="1.3"/>
<rect x="1297.1" y="372.0" width="1.4" height="39.6" fill="#ffffff"/>
<rect x="1296.2" y="412.2" width="3.2" height="8.7" fill="#000" stroke="#ffffff" stroke-width="1.3"/>
<rect x="1303.2" y="355.7" width="1.4" height="11.8" fill="#ffffff"/>
<rect x="1303.2" y="409.3" width="1.4" height="21.2" fill="#ffffff"/>
<rect x="1302.3" y="368.1" width="3.2" height="40.7" fill="#000" stroke="#ffffff" stroke-width="1.3"/>
<rect x="1309.1" y="346.9" width="1.4" height="6.5" fill="#ffffff"/>
<rect x="1309.1" y="361.0" width="1.4" height="19.6" fill="#ffffff"/>
<rect x="1308.2" y="353.9" width="3.2" height="6.5" fill="#000" stroke="#ffffff" stroke-width="1.3"/>
<rect x="1313.3" y="340.9" width="1.4" height="10.7" fill="#ffffff"/>
<rect x="1313.3" y="355.4" width="1.4" height="19.2" fill="#ffffff"/>
<rect x="1312.4" y="352.2" width="3.2" height="2.7" fill="#000" stroke="#ffffff" stroke-width="1.3"/>
<rect x="1319.3" y="332.3" width="1.4" height="6.0" fill="#ffffff"/>
<rect x="1319.3" y="355.4" width="1.4" height="7.5" fill="#ffffff"/>
<rect x="1318.4" y="338.9" width="3.2" height="16.0" fill="#000" stroke="#ffffff" stroke-width="1.3"/>
<rect x="1325.1" y="321.1" width="1.4" height="15.6" fill="#ffffff"/>
<rect x="1325.1" y="341.1" width="1.4" height="48.6" fill="#ffffff"/>
<rect x="1324.2" y="337.2" width="3.2" height="3.3" fill="#000" stroke="#ffffff" stroke-width="1.3"/>
<rect x="1329.3" y="299.1" width="1.4" height="22.9" fill="#ffffff"/>
<rect x="1329.3" y="326.4" width="1.4" height="4.4" fill="#ffffff"/>
<rect x="1328.4" y="322.6" width="3.2" height="3.3" fill="#000" stroke="#ffffff" stroke-width="1.3"/>
<rect x="1335.3" y="281.4" width="1.4" height="7.6" fill="#ffffff"/>
<rect x="1335.3" y="329.6" width="1.4" height="1.7" fill="#ffffff"/>
<rect x="1334.4" y="289.6" width="3.2" height="39.5" fill="#000" stroke="#ffffff" stroke-width="1.3"/>
<rect x="1341.1" y="287.6" width="1.4" height="1.8" fill="#ffffff"/>
<rect x="1341.1" y="304.4" width="1.4" height="6.1" fill="#ffffff"/>
<rect x="1340.2" y="289.4" width="3.2" height="15.0" fill="#3478d7"/>
<rect x="1345.2" y="323.8" width="1.4" height="4.7" fill="#ffffff"/>
<rect x="1344.3" y="303.5" width="3.2" height="20.3" fill="#3478d7"/>
<rect x="1351.3" y="296.1" width="1.4" height="14.8" fill="#ffffff"/>
<rect x="1351.3" y="328.5" width="1.4" height="5.0" fill="#ffffff"/>
<rect x="1350.4" y="311.4" width="3.2" height="16.5" fill="#000" stroke="#ffffff" stroke-width="1.3"/>
<rect x="1357.1" y="275.3" width="1.4" height="22.0" fill="#ffffff"/>
<rect x="1357.1" y="315.8" width="1.4" height="1.8" fill="#ffffff"/>
<rect x="1356.2" y="297.9" width="3.2" height="17.4" fill="#000" stroke="#ffffff" stroke-width="1.3"/>
<rect x="1361.4" y="285.5" width="1.4" height="10.6" fill="#ffffff"/>
<rect x="1361.4" y="301.7" width="1.4" height="5.7" fill="#ffffff"/>
<rect x="1360.5" y="296.1" width="3.2" height="5.6" fill="#3478d7"/>
<rect x="1367.6" y="225.9" width="1.4" height="5.3" fill="#ffffff"/>
<rect x="1367.6" y="267.3" width="1.4" height="11.1" fill="#ffffff"/>
<rect x="1366.7" y="231.8" width="3.2" height="35.0" fill="#000" stroke="#ffffff" stroke-width="1.3"/>
</g>
<path d="M30.0,573.1 C33.6,572.2 44.3,569.4 51.4,567.5 C58.5,565.6 65.7,563.5 72.8,561.6 C79.9,559.7 87.1,558.0 94.2,556.0 C101.3,554.0 108.5,551.9 115.6,549.6 C122.7,547.3 129.9,544.8 137.0,542.3 C144.1,539.8 151.3,537.0 158.4,534.6 C165.5,532.2 172.7,530.6 179.8,528.2 C186.9,525.9 194.1,523.0 201.2,520.5 C208.3,518.0 215.5,516.0 222.6,513.2 C229.7,510.4 236.9,507.0 244.0,503.8 C251.1,500.6 258.3,497.1 265.4,493.9 C272.5,490.7 279.7,487.4 286.8,484.5 C293.9,481.6 301.0,479.6 308.2,476.8 C315.4,474.0 322.8,470.6 330.0,467.9 C337.2,465.1 344.3,463.0 351.4,460.3 C358.5,457.6 365.7,454.9 372.8,451.7 C379.9,448.5 387.1,444.6 394.2,441.0 C401.3,437.4 408.5,433.5 415.6,430.3 C422.7,427.1 429.9,424.3 437.0,421.7 C444.1,419.1 451.3,416.8 458.4,414.5 C465.5,412.2 472.7,410.5 479.8,408.1 C486.9,405.8 494.1,403.1 501.2,400.4 C508.3,397.7 515.5,394.4 522.6,391.8 C529.7,389.2 536.9,386.9 544.0,384.5 C551.1,382.1 558.3,380.1 565.4,377.7 C572.5,375.3 579.7,372.9 586.8,370.4 C593.9,367.9 601.0,365.5 608.2,362.7 C615.4,359.9 622.8,356.4 630.0,353.6 C637.2,350.8 644.3,348.5 651.4,345.9 C658.5,343.3 665.7,340.9 672.8,338.2 C679.9,335.5 687.1,332.3 694.2,329.6 C701.3,326.9 708.5,324.2 715.6,321.9 C722.7,319.6 729.9,318.0 737.0,315.9 C744.1,313.8 751.3,311.9 758.4,309.5 C765.5,307.1 772.7,304.3 779.8,301.8 C786.9,299.3 794.1,297.0 801.2,294.5 C808.3,292.0 815.5,288.9 822.6,286.8 C829.7,284.7 836.9,283.5 844.0,281.7 C851.1,279.9 858.3,277.9 865.4,276.1 C872.5,274.3 879.7,272.4 886.8,271.0 C893.9,269.6 901.0,268.9 908.2,267.6 C915.4,266.3 922.8,265.0 930.0,263.3 C937.2,261.6 944.3,259.8 951.4,257.7 C958.5,255.5 965.7,252.5 972.8,250.4 C979.9,248.3 987.1,246.9 994.2,244.9 C1001.3,242.9 1008.5,240.4 1015.6,238.5 C1022.7,236.6 1029.9,235.4 1037.0,233.3 C1044.1,231.2 1051.3,228.3 1058.4,226.0 C1065.5,223.7 1072.7,221.1 1079.8,219.6 C1086.9,218.1 1094.1,218.0 1101.2,217.1 C1108.3,216.2 1115.5,214.8 1122.6,214.1 C1129.7,213.4 1136.9,213.2 1144.0,212.8 C1151.1,212.4 1158.3,212.3 1165.4,211.9 C1172.5,211.5 1179.7,210.9 1186.8,210.6 C1193.9,210.3 1200.9,210.1 1208.2,210.0 C1215.5,209.9 1224.9,209.7 1230.5,210.1 C1236.1,210.5 1237.4,211.6 1241.6,212.5 C1245.8,213.4 1250.8,214.5 1255.4,215.3 C1260.0,216.1 1264.7,216.5 1269.3,217.3 C1273.9,218.1 1278.5,219.2 1283.1,220.0 C1287.7,220.8 1292.4,221.4 1297.0,222.0 C1301.6,222.6 1306.2,223.1 1310.8,223.6 C1315.4,224.1 1320.1,224.6 1324.7,225.0 C1329.3,225.4 1333.9,225.9 1338.5,226.1 C1343.1,226.3 1347.5,226.3 1352.4,226.4 C1357.3,226.5 1365.5,226.4 1368.1,226.4" fill="none" stroke="#dcd06a" stroke-width="1.35" stroke-linejoin="round" stroke-linecap="butt"/>
<path d="M30.0,462.7 C33.6,461.2 44.3,456.7 51.4,453.7 C58.5,450.7 65.7,447.6 72.8,444.7 C79.9,441.8 87.1,439.0 94.2,436.2 C101.3,433.4 108.5,430.6 115.6,427.6 C122.7,424.6 129.9,421.3 137.0,418.2 C144.1,415.1 151.3,412.3 158.4,409.2 C165.5,406.1 172.7,402.8 179.8,399.8 C186.9,396.8 194.1,393.9 201.2,391.2 C208.3,388.5 215.5,386.4 222.6,383.5 C229.7,380.6 236.9,377.1 244.0,374.1 C251.1,371.1 258.3,368.1 265.4,365.5 C272.5,362.9 279.7,360.6 286.8,358.7 C293.9,356.8 301.0,355.8 308.2,354.4 C315.4,353.0 322.8,351.3 330.0,350.6 C337.2,349.9 345.3,350.4 351.4,350.3 C357.5,350.2 362.1,350.7 366.4,350.3 C370.7,349.9 372.5,348.6 377.1,347.7 C381.7,346.8 387.8,346.0 394.2,344.7 C400.6,343.4 408.5,341.4 415.6,339.6 C422.7,337.8 429.9,335.6 437.0,334.0 C444.1,332.4 451.3,331.7 458.4,329.7 C465.5,327.7 472.7,324.5 479.8,322.0 C486.9,319.5 494.1,317.4 501.2,314.8 C508.3,312.2 515.5,309.1 522.6,306.2 C529.7,303.3 536.9,300.1 544.0,297.6 C551.1,295.1 558.3,293.3 565.4,291.2 C572.5,289.1 579.7,287.1 586.8,284.8 C593.9,282.5 601.0,279.7 608.2,277.5 C615.4,275.3 622.8,273.6 630.0,271.5 C637.2,269.4 644.3,266.5 651.4,264.6 C658.5,262.7 667.4,261.2 672.8,260.3 C678.1,259.4 679.9,260.1 683.5,259.0 C687.1,257.9 688.9,255.3 694.2,253.4 C699.6,251.5 708.5,249.3 715.6,247.4 C722.7,245.5 729.9,243.9 737.0,241.9 C744.1,239.9 751.3,237.4 758.4,235.5 C765.5,233.6 773.7,231.5 779.8,230.3 C785.9,229.1 791.2,229.1 794.8,228.2 C798.4,227.3 796.6,226.5 801.2,224.8 C805.8,223.2 815.5,220.7 822.6,218.3 C829.7,215.9 837.6,212.7 844.0,210.6 C850.4,208.5 856.1,207.6 861.1,205.5 C866.1,203.4 869.6,199.9 873.9,197.8 C878.2,195.7 882.5,194.4 886.8,192.7 C891.1,191.0 895.3,188.8 899.6,187.5 C903.9,186.2 907.3,185.6 912.4,185.0 C917.5,184.4 923.5,185.3 930.0,184.1 C936.5,182.9 944.3,180.0 951.4,177.7 C958.5,175.4 965.7,172.9 972.8,170.4 C979.9,167.9 987.1,165.0 994.2,162.7 C1001.3,160.3 1008.5,158.4 1015.6,156.3 C1022.7,154.2 1029.9,151.7 1037.0,149.9 C1044.1,148.1 1051.3,146.7 1058.4,145.6 C1065.5,144.5 1072.7,144.3 1079.8,143.5 C1086.9,142.7 1094.1,140.9 1101.2,140.5 C1108.3,140.1 1115.5,140.1 1122.6,141.3 C1129.7,142.5 1136.9,145.9 1144.0,147.7 C1151.1,149.5 1158.3,150.6 1165.4,152.0 C1172.5,153.4 1181.0,155.5 1186.8,156.3 C1192.6,157.2 1196.0,156.6 1200.0,157.1 C1204.0,157.6 1207.4,158.5 1211.1,159.1 C1214.8,159.7 1219.0,159.6 1222.2,160.5 C1225.4,161.4 1227.3,162.3 1230.5,164.6 C1233.7,166.9 1237.4,171.3 1241.6,174.3 C1245.8,177.3 1250.8,180.1 1255.4,182.6 C1260.0,185.1 1264.7,187.1 1269.3,189.6 C1273.9,192.1 1278.5,194.5 1283.1,197.3 C1287.7,200.1 1292.4,203.6 1297.0,206.2 C1301.6,208.8 1306.2,210.8 1310.8,213.1 C1315.4,215.4 1320.1,217.9 1324.7,220.0 C1329.3,222.1 1333.9,223.8 1338.5,225.6 C1343.1,227.4 1347.8,229.5 1352.4,231.1 C1357.0,232.7 1363.9,234.6 1366.2,235.3" fill="none" stroke="#3e8e40" stroke-width="1.35" stroke-linejoin="round" stroke-linecap="butt"/>
<path d="M30.0,410.5 C33.6,409.4 44.3,405.8 51.4,404.1 C58.5,402.5 65.7,401.6 72.8,400.6 C79.9,399.6 87.1,398.7 94.2,398.1 C101.3,397.5 108.5,397.7 115.6,396.8 C122.7,395.9 129.9,394.3 137.0,392.5 C144.1,390.7 151.3,388.5 158.4,386.1 C165.5,383.8 172.7,381.7 179.8,378.4 C186.9,375.1 194.1,371.2 201.2,366.4 C208.3,361.6 215.5,355.4 222.6,349.7 C229.7,344.0 236.9,338.3 244.0,332.2 C251.1,326.1 258.3,318.2 265.4,313.3 C272.5,308.4 279.7,305.0 286.8,302.6 C293.9,300.2 301.1,300.0 308.2,299.2 C315.3,298.4 324.2,297.7 329.6,297.9 C335.0,298.1 337.1,299.9 340.7,300.6 C344.3,301.3 347.1,301.7 351.4,301.9 C355.7,302.1 362.1,302.4 366.4,301.9 C370.7,301.4 372.5,300.2 377.1,298.9 C381.7,297.6 387.8,295.7 394.2,294.2 C400.6,292.7 408.5,290.8 415.6,289.9 C422.7,289.0 430.6,288.9 437.0,288.7 C443.4,288.5 449.8,288.2 454.1,288.7 C458.4,289.2 458.4,291.1 462.7,291.7 C467.0,292.3 473.4,292.0 479.8,292.1 C486.2,292.2 494.1,292.1 501.2,292.1 C508.3,292.1 516.9,292.5 522.6,292.1 C528.3,291.7 530.4,290.8 535.4,289.9 C540.4,289.0 547.5,288.1 552.5,286.9 C557.5,285.7 559.7,284.6 565.4,282.7 C571.1,280.8 581.1,277.7 586.8,275.4 C592.5,273.1 596.0,271.7 599.6,269.0 C603.2,266.3 604.6,262.7 608.2,259.1 C611.8,255.5 617.4,250.8 621.0,247.6 C624.6,244.4 626.7,242.0 630.0,239.8 C633.3,237.6 637.1,235.9 640.7,234.6 C644.3,233.3 647.1,232.8 651.4,232.0 C655.7,231.2 661.4,230.3 666.4,229.5 C671.4,228.7 676.8,228.4 681.4,226.9 C686.0,225.4 688.5,223.7 694.2,220.5 C699.9,217.3 708.5,212.0 715.6,207.6 C722.7,203.2 729.9,198.4 737.0,194.0 C744.1,189.6 751.3,185.2 758.4,181.1 C765.5,176.9 772.7,172.7 779.8,169.1 C786.9,165.5 794.1,162.5 801.2,159.3 C808.3,156.1 816.9,152.3 822.6,149.9 C828.3,147.5 831.8,145.8 835.4,144.7 C839.0,143.6 839.0,144.4 844.0,143.5 C849.0,142.6 858.3,140.1 865.4,139.2 C872.5,138.3 879.7,138.4 886.8,137.9 C893.9,137.4 901.0,136.3 908.2,136.2 C915.4,136.0 922.8,138.1 930.0,137.0 C937.2,135.9 944.3,131.2 951.4,129.8 C958.5,128.4 965.7,128.9 972.8,128.5 C979.9,128.1 987.1,127.8 994.2,127.6 C1001.3,127.4 1008.5,127.3 1015.6,127.2 C1022.7,127.1 1029.9,127.2 1037.0,127.2 C1044.1,127.2 1051.3,127.0 1058.4,127.2 C1065.5,127.4 1074.1,127.7 1079.8,128.5 C1085.5,129.3 1087.6,130.3 1092.6,131.9 C1097.6,133.5 1104.7,136.6 1109.7,138.3 C1114.7,140.0 1116.9,139.6 1122.6,142.2 C1128.3,144.8 1136.9,150.3 1144.0,154.1 C1151.1,157.9 1158.3,161.2 1165.4,164.8 C1172.5,168.4 1181.0,173.2 1186.8,175.5 C1192.6,177.8 1196.4,177.3 1200.0,178.5 C1203.6,179.7 1205.5,181.2 1208.3,182.6 C1211.1,184.0 1213.8,185.2 1216.6,186.8 C1219.4,188.4 1222.6,190.3 1224.9,192.3 C1227.2,194.3 1228.7,195.7 1230.5,198.7 C1232.3,201.7 1234.2,207.0 1236.0,210.3 C1237.8,213.6 1239.3,215.4 1241.6,218.6 C1243.9,221.8 1247.6,226.5 1249.9,229.7 C1252.2,232.8 1252.2,233.6 1255.4,237.5 C1258.6,241.4 1264.7,247.9 1269.3,253.3 C1273.9,258.7 1278.5,264.4 1283.1,269.9 C1287.7,275.4 1292.4,281.2 1297.0,286.5 C1301.6,291.8 1306.2,296.9 1310.8,301.7 C1315.4,306.4 1320.1,311.1 1324.7,315.0 C1329.3,318.9 1333.9,322.4 1338.5,325.3 C1343.1,328.2 1347.6,330.3 1352.4,332.2 C1357.2,334.1 1365.0,335.9 1367.5,336.6" fill="none" stroke="#aa2c8a" stroke-width="1.35" stroke-linejoin="round" stroke-linecap="butt"/>
<rect x="1402.4" y="22" width="1.6" height="676" fill="#f0f0f0"/>
<rect x="30" y="696.2" width="1374" height="1.6" fill="#f0f0f0"/>
<rect x="100.4" y="697" width="1.2" height="5" fill="#f0f0f0"/>
<rect x="201.4" y="697" width="1.2" height="5" fill="#f0f0f0"/>
<rect x="318.2" y="697" width="1.2" height="5" fill="#f0f0f0"/>
<rect x="436.9" y="697" width="1.2" height="5" fill="#f0f0f0"/>
<rect x="543.9" y="697" width="1.2" height="5" fill="#f0f0f0"/>
<rect x="666.4" y="697" width="1.2" height="5" fill="#f0f0f0"/>
<rect x="773.2" y="697" width="1.2" height="5" fill="#f0f0f0"/>
<rect x="886.2" y="697" width="1.2" height="5" fill="#f0f0f0"/>
<rect x="998.4" y="697" width="1.2" height="5" fill="#f0f0f0"/>
<rect x="1099.9" y="697" width="1.2" height="5" fill="#f0f0f0"/>
<rect x="1212.4" y="697" width="1.2" height="5" fill="#f0f0f0"/>
<rect x="1325.2" y="697" width="1.2" height="5" fill="#f0f0f0"/>
<rect x="886.1" y="722" width="1.3" height="24" fill="#8a8a8a"/>
<rect x="1404" y="50.9" width="4.6" height="1.2" fill="#f0f0f0"/>
<rect x="1404" y="131.3" width="4.6" height="1.2" fill="#f0f0f0"/>
<rect x="1404" y="211.8" width="4.6" height="1.2" fill="#f0f0f0"/>
<rect x="1404" y="292.2" width="4.6" height="1.2" fill="#f0f0f0"/>
<rect x="1404" y="372.7" width="4.6" height="1.2" fill="#f0f0f0"/>
<rect x="1404" y="453.1" width="4.6" height="1.2" fill="#f0f0f0"/>
<rect x="1404" y="533.6" width="4.6" height="1.2" fill="#f0f0f0"/>
<rect x="1404" y="614.0" width="4.6" height="1.2" fill="#f0f0f0"/>
<rect x="1404" y="694.5" width="4.6" height="1.2" fill="#f0f0f0"/>
<path d="M1403.6,87.1 Q1407.5,90.5 1415.2,91.7 Q1407.5,92.9 1403.6,96.3 Z" fill="#f4f4f4"/>
<text x="1417.6" y="99.5" font-size="19.5" fill="#dcdcdc" text-anchor="start" textLength="40.2" lengthAdjust="spacingAndGlyphs" xml:space="preserve">6200</text>
<path d="M1403.6,167.6 Q1407.5,171.0 1415.2,172.2 Q1407.5,173.3 1403.6,176.8 Z" fill="#f4f4f4"/>
<text x="1417.6" y="180.0" font-size="19.5" fill="#dcdcdc" text-anchor="start" textLength="40.2" lengthAdjust="spacingAndGlyphs" xml:space="preserve">6000</text>
<path d="M1403.6,248.0 Q1407.5,251.4 1415.2,252.6 Q1407.5,253.8 1403.6,257.2 Z" fill="#f4f4f4"/>
<text x="1417.6" y="260.4" font-size="19.5" fill="#dcdcdc" text-anchor="start" textLength="40.2" lengthAdjust="spacingAndGlyphs" xml:space="preserve">5800</text>
<path d="M1403.6,328.4 Q1407.5,331.9 1415.2,333.1 Q1407.5,334.2 1403.6,337.7 Z" fill="#f4f4f4"/>
<path d="M1403.6,408.9 Q1407.5,412.3 1415.2,413.5 Q1407.5,414.7 1403.6,418.1 Z" fill="#f4f4f4"/>
<text x="1417.6" y="421.3" font-size="19.5" fill="#dcdcdc" text-anchor="start" textLength="40.2" lengthAdjust="spacingAndGlyphs" xml:space="preserve">5400</text>
<path d="M1403.6,489.3 Q1407.5,492.8 1415.2,493.9 Q1407.5,495.1 1403.6,498.6 Z" fill="#f4f4f4"/>
<text x="1417.6" y="501.8" font-size="19.5" fill="#dcdcdc" text-anchor="start" textLength="40.2" lengthAdjust="spacingAndGlyphs" xml:space="preserve">5200</text>
<path d="M1403.6,569.8 Q1407.5,573.2 1415.2,574.4 Q1407.5,575.6 1403.6,579.0 Z" fill="#f4f4f4"/>
<text x="1417.6" y="582.2" font-size="19.5" fill="#dcdcdc" text-anchor="start" textLength="40.2" lengthAdjust="spacingAndGlyphs" xml:space="preserve">5000</text>
<path d="M1403.6,650.2 Q1407.5,653.6 1415.2,654.9 Q1407.5,656.1 1403.6,659.5 Z" fill="#f4f4f4"/>
<text x="1417.6" y="662.6" font-size="19.5" fill="#dcdcdc" text-anchor="start" textLength="40.2" lengthAdjust="spacingAndGlyphs" xml:space="preserve">4800</text>
<path d="M1486,213.8 L1413.4,213.8 L1405.8,226.3 L1413.4,238 L1486,238 Z" fill="#f2e24a"/>
<path d="M1486,249 L1413.4,249 L1405.8,237.2 L1413.4,226 L1486,226 Z" fill="#4aa04c"/>
<path d="M1486,218.5 L1413.0,218.5 L1404.7,232.2 L1413.0,245.8 L1486,245.8 Z" fill="#0a0a0a"/>
<path d="M1486,220.3 L1413.8,220.3 L1406.2,232.2 L1413.8,244.5 L1486,244.5 Z" fill="#ffffff"/>
<text x="1416.4" y="239.4" font-size="19.5" fill="#1a1a28" text-anchor="start" textLength="66.2" lengthAdjust="spacingAndGlyphs" xml:space="preserve">5851.50</text>
<path d="M1486,325.1 L1413.6,325.1 L1405.9,337.3 L1413.6,350 L1486,350 Z" fill="#dc28a0"/>
<text x="1416.4" y="345.0" font-size="19.5" fill="#fbb8f2" text-anchor="start" textLength="66.2" lengthAdjust="spacingAndGlyphs" xml:space="preserve">5588.00</text>
<rect x="546.3" y="506.6" width="339" height="184.4" fill="#0b0b0b"/>
<rect x="557.5" y="523.2" width="9" height="9" fill="none" stroke="#7c7c7c" stroke-width="1.2"/>
<rect x="559.8" y="527.1" width="4.6" height="1.3" fill="#7c7c7c"/>
<rect x="561.3" y="532.5" width="1.3" height="137.5" fill="#7c7c7c"/>
<rect x="561.3" y="552.0" width="5.6" height="1.3" fill="#7c7c7c"/>
<rect x="561.3" y="575.2" width="5.6" height="1.3" fill="#7c7c7c"/>
<rect x="561.3" y="598.5" width="5.6" height="1.3" fill="#7c7c7c"/>
<rect x="561.3" y="621.8" width="5.6" height="1.3" fill="#7c7c7c"/>
<rect x="561.3" y="645.4" width="5.6" height="1.3" fill="#7c7c7c"/>
<rect x="561.3" y="668.8" width="5.6" height="1.3" fill="#7c7c7c"/>
<rect x="571.2" y="519.9" width="17.9" height="17.2" fill="#ffffff"/>
<rect x="571.1" y="613.4" width="18.1" height="17.6" fill="#de29a0"/>
<rect x="571.1" y="636.9" width="18.1" height="17.4" fill="#4eb24e"/>
<rect x="571.1" y="660.2" width="18.1" height="17.6" fill="#fde93c"/>
<rect x="575.9" y="543.6" width="10" height="1.5" fill="#9a9a9a"/><path d="M578,545 L583.8,545 L581.4,548 L580.4,548 Z" fill="#9a9a9a"/><rect x="580.2" y="544" width="1.4" height="16.4" fill="#9a9a9a"/>
<rect x="571.5" y="575.2" width="17.5" height="1.3" fill="#9a9a9a"/><circle cx="580.3" cy="575.9" r="2.3" fill="#2a2a2a" stroke="#9a9a9a" stroke-width="1.2"/>
<rect x="580.0" y="590.3" width="1.4" height="16.5" fill="#9a9a9a"/><path d="M575.8,607.6 L586.3,607.6 L586.3,606.4 L581.6,603 L579.8,603 L575.8,606.4 Z" fill="#9a9a9a"/>
<text x="595.4" y="537.1" font-size="20" fill="#dedede" text-anchor="start" textLength="37.2" lengthAdjust="spacingAndGlyphs" xml:space="preserve">Last</text>
<text x="641.4" y="537.1" font-size="20" fill="#dedede" text-anchor="start" textLength="44.1" lengthAdjust="spacingAndGlyphs" xml:space="preserve">Price</text>
<text x="595.2" y="560.6" font-size="20" fill="#dedede" text-anchor="start" textLength="36.8" lengthAdjust="spacingAndGlyphs" xml:space="preserve">High</text>
<text x="640" y="560.6" font-size="20" fill="#dedede" text-anchor="start" textLength="20.2" lengthAdjust="spacingAndGlyphs" xml:space="preserve">on</text>
<text x="669.3" y="560.6" font-size="20" fill="#dedede" text-anchor="start" textLength="81.1" lengthAdjust="spacingAndGlyphs" xml:space="preserve">12/06/24</text>
<text x="595.0" y="584.1" font-size="20" fill="#dedede" text-anchor="start" textLength="68.5" lengthAdjust="spacingAndGlyphs" xml:space="preserve">Average</text>
<text x="595.4" y="607.6" font-size="20" fill="#dedede" text-anchor="start" textLength="31.6" lengthAdjust="spacingAndGlyphs" xml:space="preserve">Low</text>
<text x="635.3" y="607.6" font-size="20" fill="#dedede" text-anchor="start" textLength="19.9" lengthAdjust="spacingAndGlyphs" xml:space="preserve">on</text>
<text x="663.5" y="607.6" font-size="20" fill="#dedede" text-anchor="start" textLength="81.9" lengthAdjust="spacingAndGlyphs" xml:space="preserve">04/07/25</text>
<text x="595.6" y="631.1" font-size="20" fill="#dedede" text-anchor="start" textLength="54.0" lengthAdjust="spacingAndGlyphs" xml:space="preserve">SMAVG</text>
<text x="659.3" y="631.1" font-size="20" fill="#dedede" text-anchor="start" textLength="37.8" lengthAdjust="spacingAndGlyphs" xml:space="preserve">(50)</text>
<text x="713.4" y="631.1" font-size="20" fill="#dedede" text-anchor="start" textLength="19.4" lengthAdjust="spacingAndGlyphs" xml:space="preserve">on</text>
<text x="741.1" y="631.1" font-size="20" fill="#dedede" text-anchor="start" textLength="47.1" lengthAdjust="spacingAndGlyphs" xml:space="preserve">Close</text>
<text x="595.6" y="654.6" font-size="20" fill="#dedede" text-anchor="start" textLength="54.0" lengthAdjust="spacingAndGlyphs" xml:space="preserve">SMAVG</text>
<text x="659.5" y="654.6" font-size="20" fill="#dedede" text-anchor="start" textLength="48.1" lengthAdjust="spacingAndGlyphs" xml:space="preserve">(100)</text>
<text x="723.4" y="654.6" font-size="20" fill="#dedede" text-anchor="start" textLength="19.4" lengthAdjust="spacingAndGlyphs" xml:space="preserve">on</text>
<text x="751.2" y="654.6" font-size="20" fill="#dedede" text-anchor="start" textLength="47.1" lengthAdjust="spacingAndGlyphs" xml:space="preserve">Close</text>
<text x="595.6" y="678.1" font-size="20" fill="#dedede" text-anchor="start" textLength="54.0" lengthAdjust="spacingAndGlyphs" xml:space="preserve">SMAVG</text>
<text x="659.5" y="678.1" font-size="20" fill="#dedede" text-anchor="start" textLength="48.1" lengthAdjust="spacingAndGlyphs" xml:space="preserve">(200)</text>
<text x="723.4" y="678.1" font-size="20" fill="#dedede" text-anchor="start" textLength="19.4" lengthAdjust="spacingAndGlyphs" xml:space="preserve">on</text>
<text x="751.2" y="678.1" font-size="20" fill="#dedede" text-anchor="start" textLength="47.1" lengthAdjust="spacingAndGlyphs" xml:space="preserve">Close</text>
<text x="807.2" y="537.1" font-size="20" fill="#dedede" text-anchor="start" textLength="66.6" lengthAdjust="spacingAndGlyphs" xml:space="preserve">5851.50</text>
<text x="807.2" y="560.6" font-size="20" fill="#dedede" text-anchor="start" textLength="66.6" lengthAdjust="spacingAndGlyphs" xml:space="preserve">6235.00</text>
<text x="807.2" y="584.1" font-size="20" fill="#dedede" text-anchor="start" textLength="66.6" lengthAdjust="spacingAndGlyphs" xml:space="preserve">5825.11</text>
<text x="807.2" y="607.6" font-size="20" fill="#dedede" text-anchor="start" textLength="66.6" lengthAdjust="spacingAndGlyphs" xml:space="preserve">4832.00</text>
<text x="807.2" y="631.1" font-size="20" fill="#dedede" text-anchor="start" textLength="66.6" lengthAdjust="spacingAndGlyphs" xml:space="preserve">5588.00</text>
<text x="807.2" y="654.6" font-size="20" fill="#dedede" text-anchor="start" textLength="66.6" lengthAdjust="spacingAndGlyphs" xml:space="preserve">5838.03</text>
<text x="807.2" y="678.1" font-size="20" fill="#dedede" text-anchor="start" textLength="66.6" lengthAdjust="spacingAndGlyphs" xml:space="preserve">5864.66</text>
<text x="35" y="718.8" font-size="19.5" fill="#dcdcdc" text-anchor="start" textLength="32.5" lengthAdjust="spacingAndGlyphs" xml:space="preserve">May</text>
<text x="136" y="718.8" font-size="19.5" fill="#dcdcdc" text-anchor="start" textLength="30" lengthAdjust="spacingAndGlyphs" xml:space="preserve">Jun</text>
<text x="246.5" y="718.8" font-size="19.5" fill="#dcdcdc" text-anchor="start" textLength="27.0" lengthAdjust="spacingAndGlyphs" xml:space="preserve">Jul</text>
<text x="362" y="718.8" font-size="19.5" fill="#dcdcdc" text-anchor="start" textLength="31.5" lengthAdjust="spacingAndGlyphs" xml:space="preserve">Aug</text>
<text x="475" y="718.8" font-size="19.5" fill="#dcdcdc" text-anchor="start" textLength="30.5" lengthAdjust="spacingAndGlyphs" xml:space="preserve">Sep</text>
<text x="590.5" y="718.8" font-size="19.5" fill="#dcdcdc" text-anchor="start" textLength="29.0" lengthAdjust="spacingAndGlyphs" xml:space="preserve">Oct</text>
<text x="705" y="718.8" font-size="19.5" fill="#dcdcdc" text-anchor="start" textLength="31" lengthAdjust="spacingAndGlyphs" xml:space="preserve">Nov</text>
<text x="815.5" y="718.8" font-size="19.5" fill="#dcdcdc" text-anchor="start" textLength="30.5" lengthAdjust="spacingAndGlyphs" xml:space="preserve">Dec</text>
<text x="927.5" y="718.8" font-size="19.5" fill="#dcdcdc" text-anchor="start" textLength="30.0" lengthAdjust="spacingAndGlyphs" xml:space="preserve">Jan</text>
<text x="1035" y="718.8" font-size="19.5" fill="#dcdcdc" text-anchor="start" textLength="29.5" lengthAdjust="spacingAndGlyphs" xml:space="preserve">Feb</text>
<text x="1141" y="718.8" font-size="19.5" fill="#dcdcdc" text-anchor="start" textLength="30" lengthAdjust="spacingAndGlyphs" xml:space="preserve">Mar</text>
<text x="1255" y="718.8" font-size="19.5" fill="#dcdcdc" text-anchor="start" textLength="27.5" lengthAdjust="spacingAndGlyphs" xml:space="preserve">Apr</text>
<text x="1366" y="718.8" font-size="19.5" fill="#dcdcdc" text-anchor="start" textLength="34" lengthAdjust="spacingAndGlyphs" xml:space="preserve">May</text>
<text x="437" y="742" font-size="19.5" fill="#dcdcdc" text-anchor="start" textLength="40.5" lengthAdjust="spacingAndGlyphs" xml:space="preserve">2024</text>
<text x="1123" y="742" font-size="19.5" fill="#dcdcdc" text-anchor="start" textLength="40.5" lengthAdjust="spacingAndGlyphs" xml:space="preserve">2025</text>
<text x="33.25" y="767" font-size="17.5" fill="#dcdcdc" text-anchor="start" textLength="41.0" lengthAdjust="spacingAndGlyphs" xml:space="preserve">ESM5</text>
<text x="83.25" y="767" font-size="17.5" fill="#dcdcdc" text-anchor="start" textLength="46.8" lengthAdjust="spacingAndGlyphs" xml:space="preserve">Index</text>
<text x="139.25" y="767" font-size="17.5" fill="#dcdcdc" text-anchor="start" textLength="72.0" lengthAdjust="spacingAndGlyphs" xml:space="preserve">(S&amp;P500</text>
<text x="220" y="767" font-size="17.5" fill="#dcdcdc" text-anchor="start" textLength="45.5" lengthAdjust="spacingAndGlyphs" xml:space="preserve">EMINI</text>
<text x="275" y="767" font-size="17.5" fill="#dcdcdc" text-anchor="start" textLength="28.8" lengthAdjust="spacingAndGlyphs" xml:space="preserve">FUT</text>
<text x="320" y="767" font-size="17.5" fill="#dcdcdc" text-anchor="start" textLength="57" lengthAdjust="spacingAndGlyphs" xml:space="preserve">Jun25)</text>
<text x="394.5" y="767" font-size="17.5" fill="#dcdcdc" text-anchor="start" textLength="41.2" lengthAdjust="spacingAndGlyphs" xml:space="preserve">Daily</text>
<text x="445" y="767" font-size="17.5" fill="#dcdcdc" text-anchor="start" textLength="197.5" lengthAdjust="spacingAndGlyphs" xml:space="preserve">12MAY2024-12MAY2025</text>
<text x="790" y="767" font-size="17.5" fill="#dcdcdc" text-anchor="start" textLength="90" lengthAdjust="spacingAndGlyphs" xml:space="preserve">Copyright©</text>
<text x="888.25" y="767" font-size="17.5" fill="#dcdcdc" text-anchor="start" textLength="39.8" lengthAdjust="spacingAndGlyphs" xml:space="preserve">2025</text>
<text x="937" y="767" font-size="17.5" fill="#dcdcdc" text-anchor="start" textLength="90" lengthAdjust="spacingAndGlyphs" xml:space="preserve">Bloomberg</text>
<text x="1035.5" y="767" font-size="17.5" fill="#dcdcdc" text-anchor="start" textLength="65.0" lengthAdjust="spacingAndGlyphs" xml:space="preserve">Finance</text>
<text x="1108.75" y="767" font-size="17.5" fill="#dcdcdc" text-anchor="start" textLength="31.2" lengthAdjust="spacingAndGlyphs" xml:space="preserve">L.P.</text>
<text x="1288" y="767" font-size="17.5" fill="#dcdcdc" text-anchor="start" textLength="110.8" lengthAdjust="spacingAndGlyphs" xml:space="preserve">12-May-2025</text>
<text x="1407.5" y="767" font-size="17.5" fill="#dcdcdc" text-anchor="start" textLength="74.5" lengthAdjust="spacingAndGlyphs" xml:space="preserve">07:15:55</text>
</svg></body></html>
